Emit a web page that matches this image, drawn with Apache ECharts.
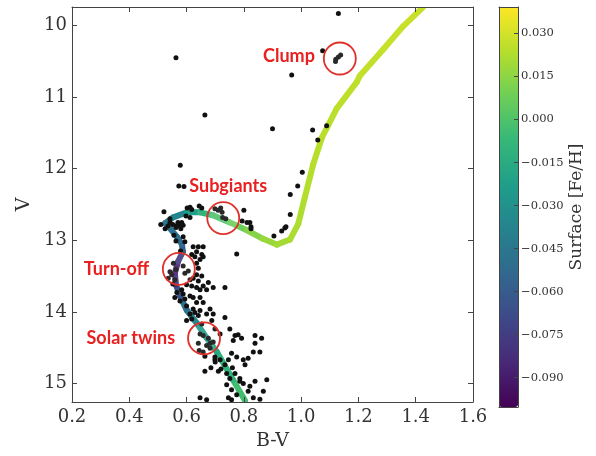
<!DOCTYPE html>
<html>
<head>
<meta charset="utf-8">
<script src="https://cdn.jsdelivr.net/npm/echarts@6/dist/echarts.min.js"></script>
<style>
  html, body { margin: 0; padding: 0; background: #fff; }
  #chart { width: 596px; height: 456px; }
</style>
</head>
<body>
<div id="chart"></div>
<script>
// cluster stars, [B-V, V]
const stars = [
  [0.563,10.45],[0.967,10.69],[0.664,11.25],[0.900,11.44],[0.578,11.95],[0.573,12.24],[0.591,12.25],
  [0.962,12.36],[0.988,12.24],[0.962,12.64],[1.130,9.83],[1.075,10.35],[1.121,10.47],[1.130,10.44],
  [1.138,10.41],[1.120,10.50],[1.040,11.46],[1.089,11.40],[1.058,11.60],[1.004,12.05],[0.943,12.83],
  [0.932,12.87],[0.905,12.94],[0.825,12.81],[0.821,12.75],[0.800,12.58],[0.794,12.73],[0.825,12.84],
  [0.947,12.81],[0.775,13.19],[0.734,13.66],[0.880,14.95],
  [0.521,12.60],[0.510,12.78],[0.542,12.70],[0.571,12.77],[0.579,12.81],[0.588,12.79],[0.563,12.80],
  [0.583,12.75],[0.602,12.55],[0.612,12.54],[0.618,12.57],[0.644,12.52],[0.653,12.55],[0.598,12.66],
  [0.612,12.68],[0.699,12.56],[0.719,12.55],[0.726,12.68],[0.737,12.70],[0.556,12.93],[0.563,13.01],
  [0.588,12.95],[0.594,13.02],[0.623,13.09],[0.641,13.09],[0.658,13.09],[0.635,13.16],[0.653,13.20],
  [0.629,13.23],[0.658,13.23],[0.618,13.20],[0.579,13.15],[0.542,12.75],[0.552,12.78],[0.563,12.82],
  [0.570,12.75],[0.535,12.80],[0.580,12.84],[0.525,12.84],[0.710,12.58],[0.724,12.61],[0.811,12.75],
  [0.554,13.32],[0.563,13.41],[0.548,13.48],[0.559,13.55],[0.588,13.36],[0.594,13.46],[0.606,13.43],
  [0.635,13.32],[0.641,13.39],[0.647,13.27],[0.635,13.48],[0.653,13.50],[0.641,13.57],[0.623,13.53],
  [0.612,13.55],[0.600,13.62],[0.618,13.64],[0.635,13.66],[0.647,13.69],[0.658,13.64],[0.670,13.69],
  [0.693,13.66],[0.676,13.59],[0.583,13.69],[0.588,13.75],[0.594,13.82],[0.612,13.78],[0.623,13.80],
  [0.647,13.80],[0.635,13.87],[0.658,13.87],[0.600,13.92],[0.623,13.96],[0.647,13.98],[0.682,13.96],
  [0.693,14.03],[0.612,14.03],[0.566,13.73],[0.559,13.80],[0.577,13.85],[0.542,13.44],[0.552,13.61],
  [0.536,13.53],
  [0.600,14.12],[0.618,14.10],[0.629,14.01],[0.641,14.05],[0.653,14.17],[0.670,14.03],[0.688,14.12],
  [0.699,14.24],[0.734,14.08],[0.751,14.24],[0.717,14.31],[0.647,14.31],[0.658,14.33],[0.676,14.37],
  [0.682,14.44],[0.693,14.42],[0.670,14.47],[0.641,14.44],[0.644,14.54],[0.658,14.56],[0.682,14.51],
  [0.769,14.33],[0.780,14.32],[0.792,14.37],[0.763,14.40],[0.839,14.33],[0.839,14.44],[0.862,14.37],
  [0.856,14.56],[0.833,14.56],[0.757,14.58],[0.775,14.63],[0.746,14.67],[0.734,14.74],[0.717,14.67],
  [0.699,14.67],[0.699,14.63],[0.798,14.67],[0.815,14.65],[0.804,14.74],[0.664,14.83],[0.711,14.83],
  [0.740,14.86],[0.751,14.93],[0.769,14.86],[0.786,14.93],[0.786,14.97],[0.798,15.00],[0.821,15.04],
  [0.815,15.11],[0.839,14.97],[0.868,15.11],[0.740,15.02],[0.757,15.09],[0.775,15.16],[0.647,15.20],
  [0.670,15.23],[0.746,15.20],[0.757,15.23],[0.833,15.20],[0.856,15.22],[0.664,14.62],[0.685,14.78],
  [0.700,14.70],[0.720,14.80],[0.760,14.78]
];

// isochrone track
const isoBV = [0.804,0.762,0.706,0.671,0.636,0.601,0.577,0.563,0.559,0.570,0.587,0.584,0.566,0.531,0.525,
  0.553,0.601,0.647,0.692,0.751,0.811,0.867,0.915,0.961,0.990,1.013,1.042,1.072,1.124,1.194,1.205,1.287,1.356,1.426];
const isoV = [15.24,14.95,14.56,14.37,14.16,13.98,13.78,13.62,13.46,13.30,13.16,13.06,12.95,12.78,12.76,
  12.68,12.61,12.61,12.65,12.75,12.86,12.98,13.06,12.99,12.77,12.40,11.94,11.57,11.16,10.79,10.70,10.33,10.01,9.74];
const isoFeH = [0.000,-0.006,-0.014,-0.020,-0.030,-0.042,-0.055,-0.072,-0.088,-0.088,-0.065,-0.052,-0.050,-0.047,-0.046,
  -0.042,-0.030,-0.015,-0.004,0.004,0.011,0.016,0.019,0.021,0.022,0.023,0.024,0.024,0.025,0.026,0.026,0.027,0.028,0.028];

// annotations
const markNames = ['Clump', 'Subgiants', 'Turn-off', 'Solar twins'];
const markBV = [1.135, 0.728, 0.573, 0.661];
const markV = [10.46, 12.69, 13.40, 14.37];

const xTicks = [0.2, 0.4, 0.6, 0.8, 1.0, 1.2, 1.4, 1.6];
const yTicks = [10, 11, 12, 13, 14, 15];
const fehTicks = [-0.090, -0.075, -0.060, -0.045, -0.030, -0.015, 0.000, 0.015, 0.030];

const viridis = ['#440154','#482878','#3e4989','#31688e','#26828e','#1f9e89','#35b779','#6ece58','#b5de2b','#fde725'];
const serif = 'DejaVu Serif';
const frame = '#444';

let segs = [];
for (let i = 0; i < isoBV.length - 1; i++) {
  segs.push([isoBV[i], isoV[i], isoBV[i + 1], isoV[i + 1], (isoFeH[i] + isoFeH[i + 1]) / 2]);
}

const labelPos = {
  'Clump': {position: 'left', distance: 8, offset: [0, -2]},
  'Subgiants': {position: 'top', distance: 6, offset: [5, 0]},
  'Turn-off': {position: 'left', distance: 13},
  'Solar twins': {position: 'left', distance: 12}
};
const marks = markNames.map((n, i) => ({name: n, value: [markBV[i], markV[i]], label: labelPos[n]}));

function frameAxis(extra) {
  return Object.assign({
    type: 'value',
    z: 10,
    axisLine: {show: true, onZero: false, lineStyle: {color: frame, width: 1}},
    axisTick: {show: false},
    axisLabel: {show: false},
    splitLine: {show: false}
  }, extra);
}

const chart = echarts.init(document.getElementById('chart'));
chart.setOption({
  animation: false,
  backgroundColor: '#fff',
  grid: [
    {left: 72, top: 7, width: 401, height: 400},
    {left: 499, top: 7, width: 19, height: 400}
  ],
  xAxis: [
    frameAxis({
      gridIndex: 0, position: 'bottom', min: 0.2, max: 1.6,
      name: 'B-V', nameLocation: 'middle', nameGap: 30,
      nameTextStyle: {fontFamily: serif, fontSize: 19, color: '#333'},
      axisTick: {show: true, inside: true, length: 5, customValues: xTicks, lineStyle: {color: frame}},
      axisLabel: {show: true, customValues: xTicks, margin: 6, fontFamily: serif, fontSize: 18, color: '#333',
        showMinLabel: true, showMaxLabel: true, formatter: v => v.toFixed(1)}
    }),
    frameAxis({
      gridIndex: 0, position: 'top', min: 0.2, max: 1.6,
      axisTick: {show: true, inside: true, length: 5, customValues: xTicks, lineStyle: {color: frame}}
    }),
    frameAxis({gridIndex: 1, position: 'bottom', min: 0, max: 1}),
    frameAxis({gridIndex: 1, position: 'top', min: 0, max: 1})
  ],
  yAxis: [
    frameAxis({
      gridIndex: 0, position: 'left', inverse: true, min: 9.74, max: 15.26,
      name: 'V', nameLocation: 'middle', nameGap: 36, nameRotate: 90,
      nameTextStyle: {fontFamily: serif, fontSize: 19, color: '#333'},
      axisTick: {show: true, inside: true, length: 5, customValues: yTicks, lineStyle: {color: frame}},
      axisLabel: {show: true, customValues: yTicks, margin: 5, fontFamily: serif, fontSize: 18, color: '#333'}
    }),
    frameAxis({
      gridIndex: 0, position: 'right', inverse: true, min: 9.74, max: 15.26,
      axisTick: {show: true, inside: true, length: 5, customValues: yTicks, lineStyle: {color: frame}}
    }),
    frameAxis({
      gridIndex: 1, position: 'right', min: -0.1002, max: 0.0392,
      name: 'Surface [Fe/H]', nameLocation: 'middle', nameGap: 50, nameRotate: 90,
      nameTextStyle: {fontFamily: serif, fontSize: 17, color: '#333'},
      axisTick: {show: true, inside: true, length: 4, customValues: fehTicks, lineStyle: {color: frame}},
      axisLabel: {show: true, customValues: fehTicks, margin: 3, fontFamily: serif, fontSize: 11.5, color: '#333',
        formatter: v => (v < -1e-9 ? '\u2212' : '') + Math.abs(v).toFixed(3)}
    }),
    frameAxis({gridIndex: 1, position: 'left', min: -0.1002, max: 0.0392})
  ],
  visualMap: {
    type: 'continuous',
    seriesIndex: 0,
    dimension: 4,
    min: -0.1002,
    max: 0.0392,
    left: 499,
    top: 7,
    itemWidth: 19,
    itemHeight: 400,
    padding: 0,
    calculable: false,
    showLabel: false,
    text: null,
    inRange: {color: viridis}
  },
  series: [
    {
      type: 'custom',
      xAxisIndex: 0,
      yAxisIndex: 0,
      clip: true,
      silent: true,
      data: segs,
      encode: {x: [0, 2], y: [1, 3]},
      renderItem: (params, api) => {
        const p1 = api.coord([api.value(0), api.value(1)]);
        const p2 = api.coord([api.value(2), api.value(3)]);
        return {
          type: 'line',
          shape: {x1: p1[0], y1: p1[1], x2: p2[0], y2: p2[1]},
          style: {stroke: api.visual('color'), lineWidth: 6, lineCap: 'round'}
        };
      },
      z: 2
    },
    {
      type: 'scatter',
      xAxisIndex: 0,
      yAxisIndex: 0,
      silent: true,
      symbolSize: 5,
      itemStyle: {color: '#111', opacity: 1},
      data: stars,
      z: 3
    },
    {
      type: 'scatter',
      xAxisIndex: 0,
      yAxisIndex: 0,
      silent: true,
      symbolSize: 32,
      itemStyle: {color: 'rgba(255,255,255,0.1)', borderColor: '#e0302a', borderWidth: 1.8, opacity: 1},
      label: {show: true, formatter: '{b}', color: '#e8201f', fontFamily: 'Lato', fontWeight: 'bold', fontSize: 18},
      data: marks,
      z: 4
    }
  ]
});
</script>
</body>
</html>
